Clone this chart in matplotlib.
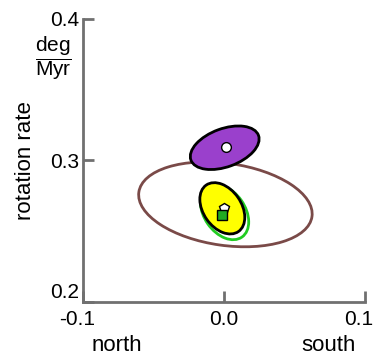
import matplotlib
matplotlib.use("Agg")
import matplotlib.pyplot as plt
import matplotlib.transforms as mtransforms
from matplotlib.patches import Ellipse

plt.rcParams["font.family"] = ["Liberation Sans", "DejaVu Sans"]
plt.rcParams["mathtext.fontset"] = "custom"
plt.rcParams["mathtext.rm"] = "Liberation Sans"

GREY = "#707070"

# confidence ellipses: x (north-south), rotation rate (deg/Myr)
ell_names = ["brown", "purple", "green", "yellow"]
ell_x = [0.001, 0.0005, 0.0004, -0.0012]
ell_y = [0.269, 0.309, 0.2635, 0.2662]
ell_w = [0.124, 0.051, 0.043, 0.040]
ell_h = [0.058, 0.027, 0.029, 0.027]
ell_ang = [-8, 20, -55, -55]
ell_face = ["none", "#9a40cc", "none", "#ffff00"]
ell_edge = ["#7a4a48", "black", "#22cc22", "black"]

# pole estimates
pt_x = [0.0015, -0.0002, -0.0012]
pt_y = [0.3095, 0.2665, 0.2615]
pt_face = ["white", "white", "#22aa22"]
pt_marker = ["o", "p", "s"]

fig = plt.figure(figsize=(3.78, 3.56), dpi=100)
ax = fig.add_axes([0.2196, 0.1517, 0.746, 0.795])

for i in range(len(ell_names)):
    e = Ellipse((ell_x[i], ell_y[i]), ell_w[i], ell_h[i], angle=ell_ang[i],
                facecolor=ell_face[i], edgecolor=ell_edge[i], lw=2, zorder=2 + i)
    ax.add_patch(e)

for i in range(len(pt_x)):
    ax.plot(pt_x[i], pt_y[i], marker=pt_marker[i], ms=7, mfc=pt_face[i],
            mec="black", mew=1, zorder=10)

ax.set_xlim(-0.1, 0.1)
ax.set_ylim(0.2, 0.4)
ax.set_xticks([-0.1, 0.0, 0.1])
ax.set_xticklabels(["-0.1", "0.0", "0.1"])
ax.set_yticks([0.2, 0.3, 0.4])
ax.set_yticklabels(["0.2", "0.3", "0.4"])
ax.tick_params(direction="in", length=8, width=2, color=GREY,
               labelsize=15)
ax.tick_params(axis="y", pad=3)
ax.tick_params(axis="x", pad=6)
ax.get_yticklabels()[0].set_verticalalignment("bottom")
# end labels sit a bit left of their ticks
shift = mtransforms.ScaledTranslation(-6 / 100, 0, fig.dpi_scale_trans)
for lab in [ax.get_xticklabels()[0], ax.get_xticklabels()[-1]]:
    lab.set_transform(lab.get_transform() + shift)
for s in ["top", "right"]:
    ax.spines[s].set_visible(False)
for s in ["left", "bottom"]:
    ax.spines[s].set_color(GREY)
    ax.spines[s].set_linewidth(2)

ax.set_ylabel("rotation rate", fontsize=16)
ax.yaxis.set_label_coords(-0.165, 0.5)
fig.text(0.14, 0.835, r"$\dfrac{\mathrm{deg}}{\mathrm{Myr}}$", fontsize=15,
         ha="center", va="center")
fig.text(0.31, 0.013, "north", fontsize=16, ha="center")
fig.text(0.868, 0.013, "south", fontsize=16, ha="center")

fig.savefig("out.png", dpi=100)
